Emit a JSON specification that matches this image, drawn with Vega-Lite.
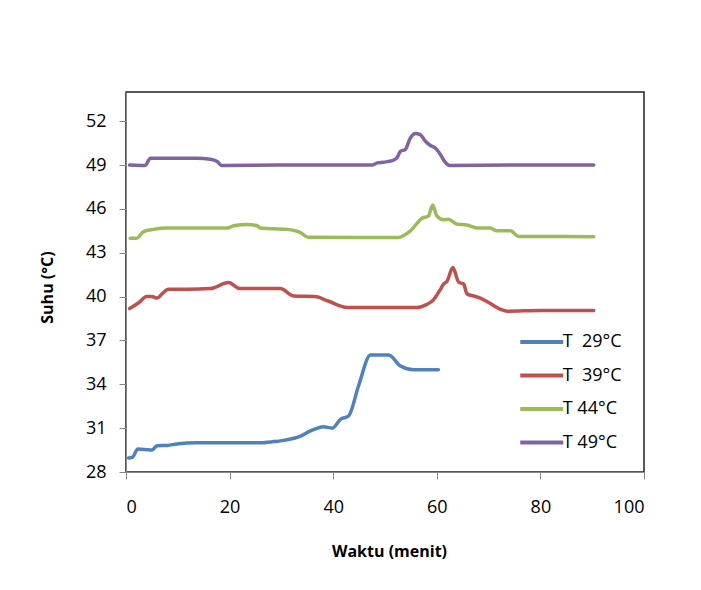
{
  "$schema": "https://vega.github.io/schema/vega-lite/v6.json",
  "width": 518,
  "height": 380,
  "autosize": {"type": "none"},
  "padding": {"left": 126, "top": 92, "right": 57, "bottom": 118},
  "background": "white",
  "config": {
    "view": {"stroke": "#222", "strokeWidth": 1.5},
    "font": "Open Sans"
  },
  "data": {
    "values": [
      {"s": "T\u00a0\u00a029°C", "x": 0.5, "y": 28.96},
      {"s": "T\u00a0\u00a029°C", "x": 1.2, "y": 29.0},
      {"s": "T\u00a0\u00a029°C", "x": 2.3, "y": 29.58},
      {"s": "T\u00a0\u00a029°C", "x": 4.3, "y": 29.52},
      {"s": "T\u00a0\u00a029°C", "x": 5.0, "y": 29.5},
      {"s": "T\u00a0\u00a029°C", "x": 6.0, "y": 29.8},
      {"s": "T\u00a0\u00a029°C", "x": 8.0, "y": 29.82},
      {"s": "T\u00a0\u00a029°C", "x": 9.8, "y": 29.92},
      {"s": "T\u00a0\u00a029°C", "x": 13.7, "y": 30.0},
      {"s": "T\u00a0\u00a029°C", "x": 20.0, "y": 30.0},
      {"s": "T\u00a0\u00a029°C", "x": 26.0, "y": 30.0},
      {"s": "T\u00a0\u00a029°C", "x": 28.5, "y": 30.08},
      {"s": "T\u00a0\u00a029°C", "x": 31.0, "y": 30.2},
      {"s": "T\u00a0\u00a029°C", "x": 33.6, "y": 30.44},
      {"s": "T\u00a0\u00a029°C", "x": 35.5, "y": 30.8},
      {"s": "T\u00a0\u00a029°C", "x": 36.2, "y": 30.9},
      {"s": "T\u00a0\u00a029°C", "x": 38.1, "y": 31.1},
      {"s": "T\u00a0\u00a029°C", "x": 39.8, "y": 31.0},
      {"s": "T\u00a0\u00a029°C", "x": 41.4, "y": 31.6},
      {"s": "T\u00a0\u00a029°C", "x": 43.0, "y": 31.85},
      {"s": "T\u00a0\u00a029°C", "x": 44.9, "y": 33.9},
      {"s": "T\u00a0\u00a029°C", "x": 47.2, "y": 36.0},
      {"s": "T\u00a0\u00a029°C", "x": 50.7, "y": 36.0},
      {"s": "T\u00a0\u00a029°C", "x": 53.0, "y": 35.25},
      {"s": "T\u00a0\u00a029°C", "x": 55.5, "y": 35.0},
      {"s": "T\u00a0\u00a029°C", "x": 60.3, "y": 35.0},

      {"s": "T\u00a0\u00a039°C", "x": 0.7, "y": 39.18},
      {"s": "T\u00a0\u00a039°C", "x": 2.5, "y": 39.6},
      {"s": "T\u00a0\u00a039°C", "x": 4.0, "y": 40.0},
      {"s": "T\u00a0\u00a039°C", "x": 5.0, "y": 40.0},
      {"s": "T\u00a0\u00a039°C", "x": 6.0, "y": 39.9},
      {"s": "T\u00a0\u00a039°C", "x": 7.0, "y": 40.2},
      {"s": "T\u00a0\u00a039°C", "x": 8.2, "y": 40.5},
      {"s": "T\u00a0\u00a039°C", "x": 12.0, "y": 40.5},
      {"s": "T\u00a0\u00a039°C", "x": 16.3, "y": 40.55},
      {"s": "T\u00a0\u00a039°C", "x": 19.8, "y": 40.96},
      {"s": "T\u00a0\u00a039°C", "x": 22.0, "y": 40.55},
      {"s": "T\u00a0\u00a039°C", "x": 26.0, "y": 40.55},
      {"s": "T\u00a0\u00a039°C", "x": 29.8, "y": 40.55},
      {"s": "T\u00a0\u00a039°C", "x": 32.4, "y": 40.04},
      {"s": "T\u00a0\u00a039°C", "x": 36.5, "y": 40.0},
      {"s": "T\u00a0\u00a039°C", "x": 39.0, "y": 39.7},
      {"s": "T\u00a0\u00a039°C", "x": 42.7, "y": 39.25},
      {"s": "T\u00a0\u00a039°C", "x": 50.0, "y": 39.25},
      {"s": "T\u00a0\u00a039°C", "x": 56.2, "y": 39.25},
      {"s": "T\u00a0\u00a039°C", "x": 58.0, "y": 39.45},
      {"s": "T\u00a0\u00a039°C", "x": 59.4, "y": 39.8},
      {"s": "T\u00a0\u00a039°C", "x": 60.7, "y": 40.5},
      {"s": "T\u00a0\u00a039°C", "x": 61.3, "y": 40.85},
      {"s": "T\u00a0\u00a039°C", "x": 62.0, "y": 41.07},
      {"s": "T\u00a0\u00a039°C", "x": 63.1, "y": 41.99},
      {"s": "T\u00a0\u00a039°C", "x": 64.2, "y": 41.0},
      {"s": "T\u00a0\u00a039°C", "x": 65.2, "y": 40.85},
      {"s": "T\u00a0\u00a039°C", "x": 65.8, "y": 40.2},
      {"s": "T\u00a0\u00a039°C", "x": 67.1, "y": 40.04},
      {"s": "T\u00a0\u00a039°C", "x": 68.4, "y": 39.9},
      {"s": "T\u00a0\u00a039°C", "x": 70.0, "y": 39.6},
      {"s": "T\u00a0\u00a039°C", "x": 72.3, "y": 39.13},
      {"s": "T\u00a0\u00a039°C", "x": 73.6, "y": 39.0},
      {"s": "T\u00a0\u00a039°C", "x": 80.0, "y": 39.05},
      {"s": "T\u00a0\u00a039°C", "x": 90.3, "y": 39.05},

      {"s": "T 44°C", "x": 0.8, "y": 44.0},
      {"s": "T 44°C", "x": 2.1, "y": 44.0},
      {"s": "T 44°C", "x": 3.4, "y": 44.45},
      {"s": "T 44°C", "x": 5.3, "y": 44.6},
      {"s": "T 44°C", "x": 7.9, "y": 44.7},
      {"s": "T 44°C", "x": 14.0, "y": 44.7},
      {"s": "T 44°C", "x": 19.5, "y": 44.7},
      {"s": "T 44°C", "x": 20.8, "y": 44.85},
      {"s": "T 44°C", "x": 23.4, "y": 44.93},
      {"s": "T 44°C", "x": 25.3, "y": 44.85},
      {"s": "T 44°C", "x": 25.9, "y": 44.7},
      {"s": "T 44°C", "x": 31.1, "y": 44.6},
      {"s": "T 44°C", "x": 33.6, "y": 44.4},
      {"s": "T 44°C", "x": 35.2, "y": 44.07},
      {"s": "T 44°C", "x": 45.0, "y": 44.05},
      {"s": "T 44°C", "x": 52.6, "y": 44.05},
      {"s": "T 44°C", "x": 54.9, "y": 44.5},
      {"s": "T 44°C", "x": 57.1, "y": 45.35},
      {"s": "T 44°C", "x": 58.4, "y": 45.53},
      {"s": "T 44°C", "x": 59.2, "y": 46.26},
      {"s": "T 44°C", "x": 60.0, "y": 45.53},
      {"s": "T 44°C", "x": 61.3, "y": 45.26},
      {"s": "T 44°C", "x": 62.2, "y": 45.3},
      {"s": "T 44°C", "x": 63.9, "y": 44.96},
      {"s": "T 44°C", "x": 65.8, "y": 44.9},
      {"s": "T 44°C", "x": 67.8, "y": 44.69},
      {"s": "T 44°C", "x": 70.3, "y": 44.69},
      {"s": "T 44°C", "x": 71.6, "y": 44.5},
      {"s": "T 44°C", "x": 74.2, "y": 44.5},
      {"s": "T 44°C", "x": 75.8, "y": 44.12},
      {"s": "T 44°C", "x": 90.3, "y": 44.1},

      {"s": "T 49°C", "x": 0.7, "y": 49.0},
      {"s": "T 49°C", "x": 3.7, "y": 48.97},
      {"s": "T 49°C", "x": 4.7, "y": 49.47},
      {"s": "T 49°C", "x": 10.0, "y": 49.47},
      {"s": "T 49°C", "x": 13.7, "y": 49.47},
      {"s": "T 49°C", "x": 16.3, "y": 49.4},
      {"s": "T 49°C", "x": 17.6, "y": 49.24},
      {"s": "T 49°C", "x": 18.5, "y": 48.97},
      {"s": "T 49°C", "x": 30.0, "y": 49.0},
      {"s": "T 49°C", "x": 47.5, "y": 49.0},
      {"s": "T 49°C", "x": 48.5, "y": 49.15},
      {"s": "T 49°C", "x": 49.7, "y": 49.2},
      {"s": "T 49°C", "x": 51.4, "y": 49.3},
      {"s": "T 49°C", "x": 52.3, "y": 49.5},
      {"s": "T 49°C", "x": 53.0, "y": 49.95},
      {"s": "T 49°C", "x": 53.9, "y": 50.06},
      {"s": "T 49°C", "x": 54.9, "y": 50.86},
      {"s": "T 49°C", "x": 55.9, "y": 51.16},
      {"s": "T 49°C", "x": 56.8, "y": 51.09},
      {"s": "T 49°C", "x": 57.8, "y": 50.63},
      {"s": "T 49°C", "x": 58.7, "y": 50.36},
      {"s": "T 49°C", "x": 59.7, "y": 50.17},
      {"s": "T 49°C", "x": 60.7, "y": 49.72},
      {"s": "T 49°C", "x": 61.6, "y": 49.2},
      {"s": "T 49°C", "x": 62.5, "y": 48.97},
      {"s": "T 49°C", "x": 75.0, "y": 49.0},
      {"s": "T 49°C", "x": 90.3, "y": 49.0}
    ]
  },
  "mark": {"type": "line", "strokeWidth": 3.5, "interpolate": "monotone", "strokeCap": "round", "strokeJoin": "round"},
  "encoding": {
    "x": {
      "field": "x",
      "type": "quantitative",
      "scale": {"domain": [0, 100], "nice": false, "zero": false},
      "axis": {
        "title": "Waktu (menit)",
        "values": [0, 20, 40, 60, 80, 100],
        "grid": false,
        "domainColor": "#868686",
        "tickColor": "#868686",
        "tickSize": 7,
        "labelFontSize": 18,
        "labelColor": "#000",
        "labelPadding": 19,
        "labelFont": "Open Sans",
        "titleFont": "Open Sans",
        "titleFontSize": 16,
        "titleFontWeight": "bold",
        "titleColor": "#000",
        "titleX": 263,
        "titleY": 79,
        "titleBaseline": "middle",
        "titleAlign": "center"
      }
    },
    "y": {
      "field": "y",
      "type": "quantitative",
      "scale": {"domain": [28, 54], "nice": false, "zero": false},
      "axis": {
        "title": "Suhu (°C)",
        "values": [28, 31, 34, 37, 40, 43, 46, 49, 52],
        "grid": false,
        "domainColor": "#868686",
        "tickColor": "#868686",
        "tickSize": 7,
        "labelFontSize": 18,
        "labelColor": "#000",
        "labelPadding": 13,
        "labelFont": "Open Sans",
        "titleFont": "Open Sans",
        "titleFontSize": 16,
        "titleFontWeight": "bold",
        "titleColor": "#000",
        "titleX": -79,
        "titleY": 195,
        "titleBaseline": "middle",
        "titleAlign": "center",
        "titleAngle": -90
      }
    },
    "color": {
      "field": "s",
      "type": "nominal",
      "scale": {
        "domain": ["T\u00a0\u00a029°C", "T\u00a0\u00a039°C", "T 44°C", "T 49°C"],
        "range": ["#4F81BD", "#C0504D", "#9BBB59", "#8064A2"]
      },
      "legend": {
        "title": null,
        "orient": "none",
        "legendX": 402.75,
        "legendY": 237,
        "padding": 0,
        "symbolType": "M-2,0H2",
        "symbolSize": 462,
        "symbolStrokeWidth": 4,
        "labelOffset": 8,
        "rowPadding": 11.5,
        "labelFontSize": 18,
        "labelFont": "Open Sans",
        "labelColor": "#000",
        "labelLimit": 200
      }
    }
  }
}
